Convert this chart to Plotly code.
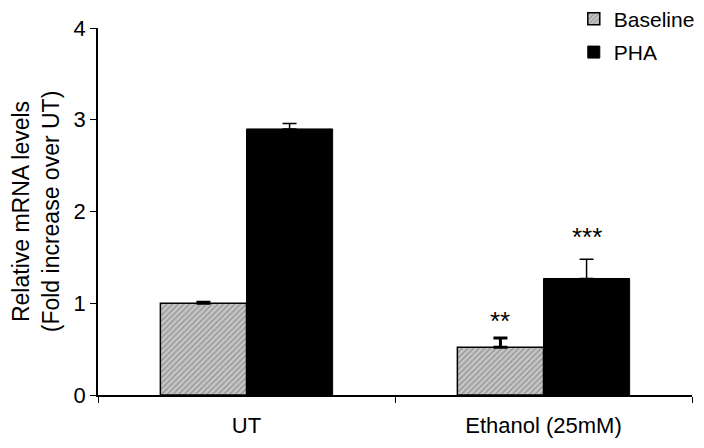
import plotly.graph_objects as go

categories = ["UT", "Ethanol (25mM)"]
baseline = [1.0, 0.52]
baseline_err = [0.01, 0.10]
pha = [2.90, 1.27]
pha_err = [0.06, 0.21]
stars_baseline = ["", "**"]
stars_pha = ["", "***"]

FONT = "Liberation Sans, Arial, sans-serif"

fig = go.Figure()
fig.add_trace(go.Bar(
    name="Baseline", x=categories, y=baseline,
    marker=dict(color="#c4c4c4", line=dict(color="black", width=1.5),
                pattern=dict(shape="/", bgcolor="#c6c6c6", fgcolor="#909090",
                             size=4, solidity=0.3, fillmode="replace")),
    error_y=dict(type="data", symmetric=False, array=baseline_err,
                 arrayminus=[0, 0], color="black", thickness=3, width=7),
    legendgroup="a",
))
fig.add_trace(go.Bar(
    name="PHA", x=categories, y=pha,
    marker=dict(color="black", line=dict(color="black", width=1)),
    error_y=dict(type="data", symmetric=False, array=pha_err,
                 arrayminus=[0, 0], color="black", thickness=1.5, width=7),
    legendgroup="b",
))

for i, c in enumerate(categories):
    if stars_baseline[i]:
        fig.add_annotation(x=i - 0.145, y=baseline[i] + baseline_err[i] + 0.19,
                           text=stars_baseline[i], showarrow=False,
                           font=dict(size=26, family=FONT, color="black"))
    if stars_pha[i]:
        fig.add_annotation(x=i + 0.145, y=pha[i] + pha_err[i] + 0.24,
                           text=stars_pha[i], showarrow=False,
                           font=dict(size=26, family=FONT, color="black"))

# the page body adds an 8px offset; the figure is sized to fill the rest
fig.update_layout(
    width=696, height=440,
    margin=dict(l=90, r=12, t=20, b=53, autoexpand=False),
    paper_bgcolor="white", plot_bgcolor="white",
    barmode="group", bargap=0.42, bargroupgap=0,
    font=dict(family=FONT, size=22, color="black"),
    legend=dict(x=0.801, y=1.08, xanchor="left", yanchor="top",
                font=dict(size=21), tracegroupgap=3, bgcolor="rgba(0,0,0,0)"),
    xaxis=dict(showline=True, linecolor="black", linewidth=1.5,
               ticks="outside", tickson="boundaries", ticklen=6,
               tickcolor="black", showgrid=False, ticklabelstandoff=10),
    yaxis=dict(range=[0, 4], dtick=1, showline=True, linecolor="black",
               linewidth=1.5, ticks="outside", ticklen=6, tickcolor="black",
               showgrid=False, zeroline=False,
               title=dict(text="Relative mRNA levels<br>(Fold increase over UT)",
                          font=dict(size=23), standoff=13)),
)

fig.write_html("out.html")
